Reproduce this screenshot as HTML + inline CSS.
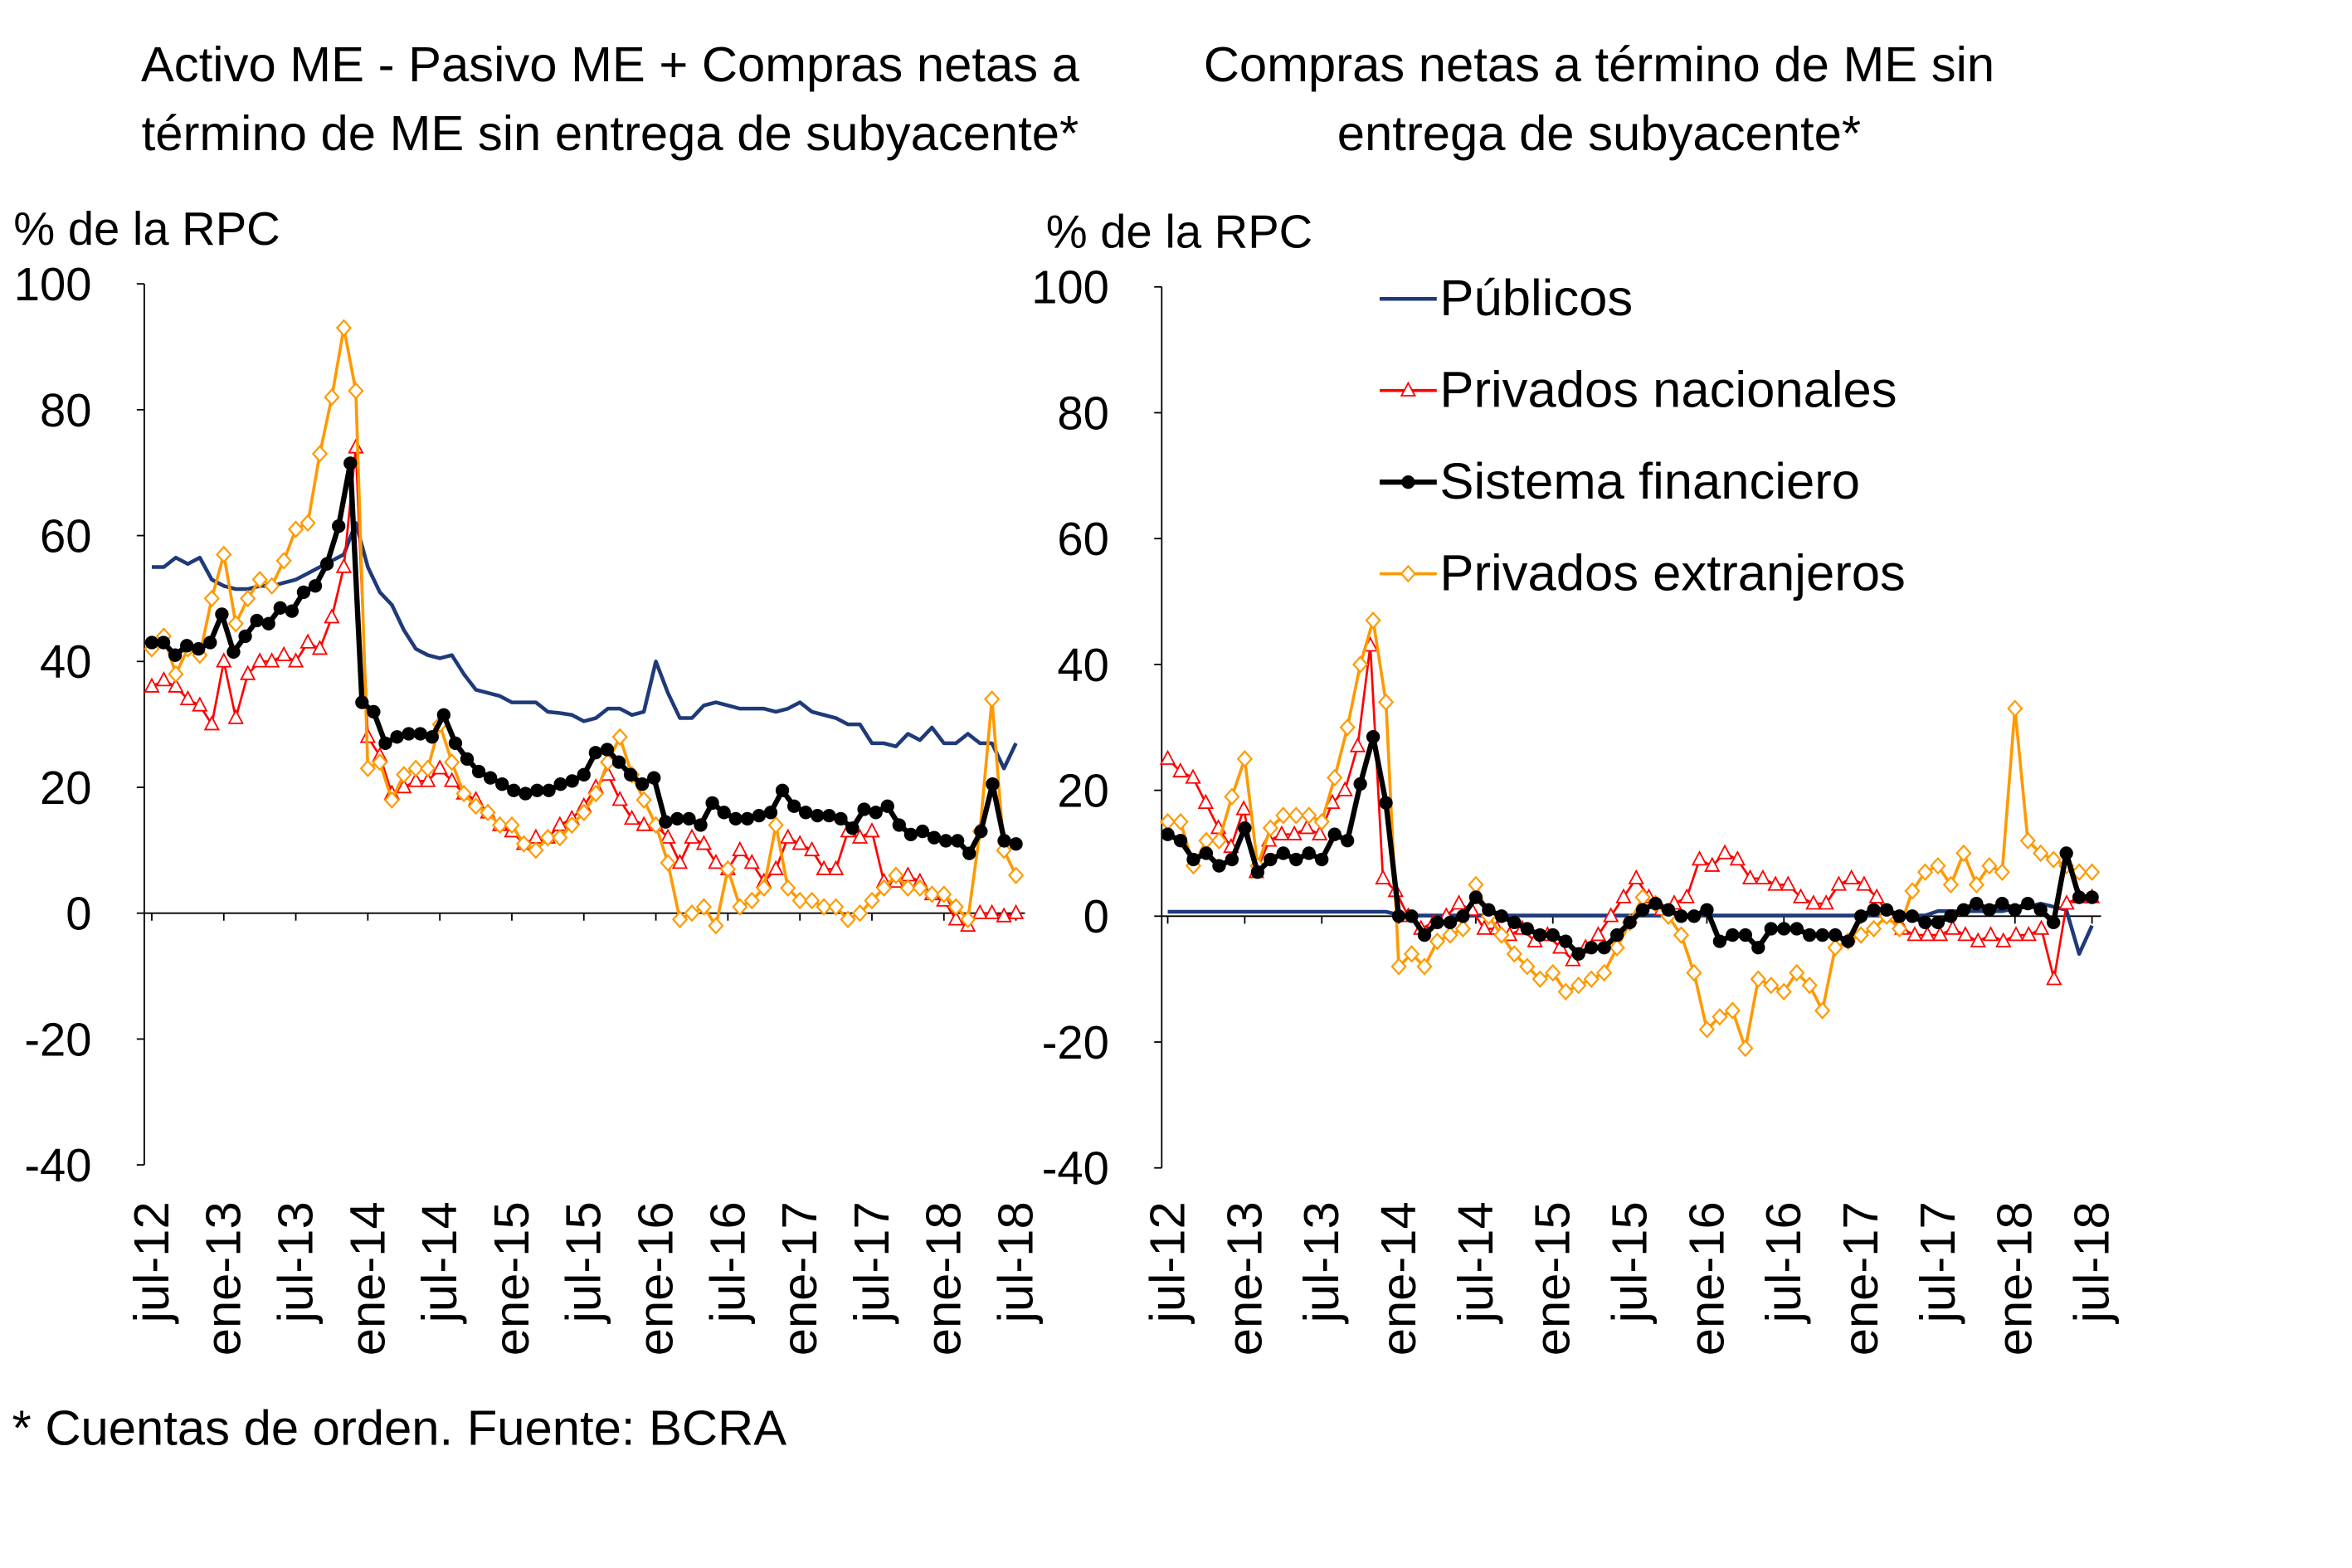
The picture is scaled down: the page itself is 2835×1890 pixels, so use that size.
<!DOCTYPE html>
<html><head><meta charset="utf-8">
<style>
html,body{margin:0;padding:0;background:#fff;}
svg{display:block;}
text{font-family:"Liberation Sans",sans-serif;fill:#000;}
</style></head>
<body>
<svg id="s" width="2835" height="1890" viewBox="0 0 1565 1044" preserveAspectRatio="none" xmlns="http://www.w3.org/2000/svg">
<text x="406" y="54" font-size="33" text-anchor="middle">Activo ME - Pasivo ME + Compras netas a</text>
<text x="406" y="100" font-size="33" text-anchor="middle">término de ME sin entrega de subyacente*</text>
<text x="1064" y="54" font-size="33" text-anchor="middle">Compras netas a término de ME sin</text>
<text x="1064" y="100" font-size="33" text-anchor="middle">entrega de subyacente*</text>
<text x="9" y="163" font-size="31">% de la RPC</text>
<text x="696" y="165" font-size="31">% de la RPC</text>
<text x="8" y="962" font-size="33">* Cuentas de orden. Fuente: BCRA</text>
<g id="g"></g>
</svg>
<script>
const NS="http://www.w3.org/2000/svg";
const g=document.getElementById('g');
function el(t,a,txt){const e=document.createElementNS(NS,t);for(const k in a)e.setAttribute(k,a[k]);if(txt!==undefined)e.textContent=txt;g.appendChild(e);return e;}
const labels=["jul-12","ene-13","jul-13","ene-14","jul-14","ene-15","jul-15","ene-16","jul-16","ene-17","jul-17","ene-18","jul-18"];
function chart(c){
  const yv=v=>c.y0-(v)*(c.y0-c.y100)/100;
  el('line',{x1:c.ax,y1:c.y100,x2:c.ax,y2:yv(-40),stroke:'#000','stroke-width':1});
  for(let v=-40;v<=100;v+=20){const y=yv(v);
    el('line',{x1:c.ax-5,y1:y,x2:c.ax,y2:y,stroke:'#000','stroke-width':1});
    el('text',{x:c.ax-35,y:y+11,'font-size':31,'text-anchor':'end'},String(v));}
  el('line',{x1:c.ax,y1:yv(0),x2:c.xe,y2:yv(0),stroke:'#000','stroke-width':1});
  for(let i=0;i<13;i++){const x=c.x0+i*(c.x1-c.x0)/12;
    el('line',{x1:x,y1:yv(0),x2:x,y2:yv(0)+5,stroke:'#000','stroke-width':1});
    el('text',{x:0,y:0,'font-size':33,'text-anchor':'end',transform:`translate(${x+11},${c.lab}) rotate(-90)`},labels[i]);}
  const st={pub:{c:'#1f3a7a',w:2.5},red:{c:'#ff0000',w:1.5},blk:{c:'#000',w:3.5},org:{c:'#ff9900',w:2}};
  for(const k of ['pub','red','org','blk']){const d=c.d[k];if(!d)continue;const n=d.length;
    const pts=d.map((v,i)=>[c.x0+i*(c.x1-c.x0)/(n-1),yv(v)]);
    el('polyline',{points:pts.map(p=>p.join(',')).join(' '),fill:'none',stroke:st[k].c,'stroke-width':st[k].w,'stroke-linejoin':'round'});
    pts.forEach(p=>{const[x,y]=p;
      if(k=='blk')el('circle',{cx:x,cy:y,r:4.5,fill:'#000'});
      if(k=='red')el('polygon',{points:`${x},${y-5} ${x-4.5},${y+3.5} ${x+4.5},${y+3.5}`,fill:'#fff',stroke:'#ff0000','stroke-width':1});
      if(k=='org')el('polygon',{points:`${x},${y-5} ${x+4.5},${y} ${x},${y+5} ${x-4.5},${y}`,fill:'#fff',stroke:'#ff9900','stroke-width':1.2});
    });}
}
const L={
pub:[55,55,56.5,55.5,56.5,53,52,51.5,51.5,52,52,52.5,53,54,55,56,57,62,
55,51,49,45,42,41,40.5,41,38,35.5,35,34.5,33.5,33.5,33.5,32,31.8,31.5,30.5,31,32.5,32.5,31.5,32,
40,35,31,31,33,33.5,33,32.5,32.5,32.5,32,32.5,33.5,32,31.5,31,30,30,27,27,26.5,28.5,27.5,29.5,27,27,28.5,27,27,23,27],
blk:[43,43,41,42.5,42,43,47.5,41.5,44,46.5,46,48.5,48,51,52,55.5,61.5,71.5,
33.5,32,27,28,28.5,28.5,28,31.5,27,24.5,22.5,21.5,20.5,19.5,19,19.5,19.5,20.5,21,22,25.5,26,24,22,20.5,21.5,14.5,15,15,14,17.5,16,15,15,15.5,16,19.5,17,16,15.5,15.5,15,13.5,16.5,16,17,14,12.5,13,12,11.5,11.5,9.5,13,20.5,11.5,11],
red:[36,37,36,34,33,30,40,31,38,40,40,41,40,43,42,47,55,74,
28,25,19,20,21,21,23,21,19,18,16,14,13,11,12,12,14,15,17,20,22,18,15,14,14,12,8,12,11,8,7,10,8,5,7,12,11,10,7,7,13,12,13,5,5,6,5,3,2,-1,-2,0,0,-0.5,0],
org:[42,44,38,42,41,50,57,46,50,53,52,56,61,62,73,82,93,83,23,
24,18,22,23,23,30,24,19,17,16,14,14,11,10,12,12,14,16,19,24,28,22,18,14,8,-1,0,1,-2,7,1,2,4,14,4,2,2,1,1,-1,0,2,4,6,4,4,3,3,1,-1,13,34,10,6]
};
const pubR=[];for(let i=0;i<73;i++)pubR.push(i<18?0.7:(i<60?0.1:0.8));
pubR[18]=0.2;pubR[66]=1.2;pubR[67]=1.5;pubR[68]=2;pubR[69]=1.5;pubR[70]=1;pubR[71]=-6;pubR[72]=-1.5;
const R={
pub:pubR,
blk:[13,12,9,10,8,9,14,7,9,10,9,10,9,13,12,21,28.5,18,0,
0,-3,-1,-1,0,3,1,0,-1,-2,-3,-3,-4,-6,-5,-5,-3,-1,1,2,1,0,0,1,-4,-3,-3,-5,-2,-2,-2,-3,-3,-3,-4,0,1,1,0,0,-1,-1,0,1,2,1,2,1,2,1,-1,10,3,3],
red:[25,23,22,18,14,11,17,7,12,13,13,14,13,18,20,27,43,6,4,
0,-2,-1,0,2,1,-2,-2,-3,-2,-4,-3,-5,-7,-5,-3,0,3,6,3,1,2,3,9,8,10,9,6,6,5,5,3,2,2,5,6,5,3,0,-2,-3,-3,-3,-2,-3,-4,-3,-4,-3,-3,-2,-10,2,3,3],
org:[15,15,8,12,12,19,25,8,14,16,16,16,15,22,30,40,47,34,-8,
-6,-8,-4,-3,-2,5,0,-3,-6,-8,-10,-9,-12,-11,-10,-9,-5,-1,3,2,0,-3,-9,-18,-16,-15,-21,-10,-11,-12,-9,-11,-15,-5,-4,-3,-2,0,-2,4,7,8,5,10,5,8,7,33,12,10,9,8,7,7]
};
chart({ax:96,xe:682,x0:101,x1:676,y100:189,y0:608,lab:800,d:L});
chart({ax:773,xe:1398,x0:777,x1:1392,y100:191,y0:610,lab:800,d:R});
const lg=[['Públicos','pub',199],['Privados nacionales','red',260],['Sistema financiero','blk',321],['Privados extranjeros','org',382]];
lg.forEach(([t,k,y])=>{
  const col={pub:'#1f3a7a',red:'#ff0000',blk:'#000',org:'#ff9900'}[k];
  el('line',{x1:918,y1:y,x2:956,y2:y,stroke:col,'stroke-width':k=='blk'?3.5:(k=='pub'?2.5:2)});
  const x=937;
  if(k=='blk')el('circle',{cx:x,cy:y,r:4.5,fill:'#000'});
  if(k=='red')el('polygon',{points:`${x},${y-5} ${x-4.5},${y+3.5} ${x+4.5},${y+3.5}`,fill:'#fff',stroke:'#ff0000','stroke-width':1});
  if(k=='org')el('polygon',{points:`${x},${y-5} ${x+4.5},${y} ${x},${y+5} ${x-4.5},${y}`,fill:'#fff',stroke:'#ff9900','stroke-width':1.2});
  el('text',{x:958,y:y+11,'font-size':34},t);
});
</script>
</body></html>
